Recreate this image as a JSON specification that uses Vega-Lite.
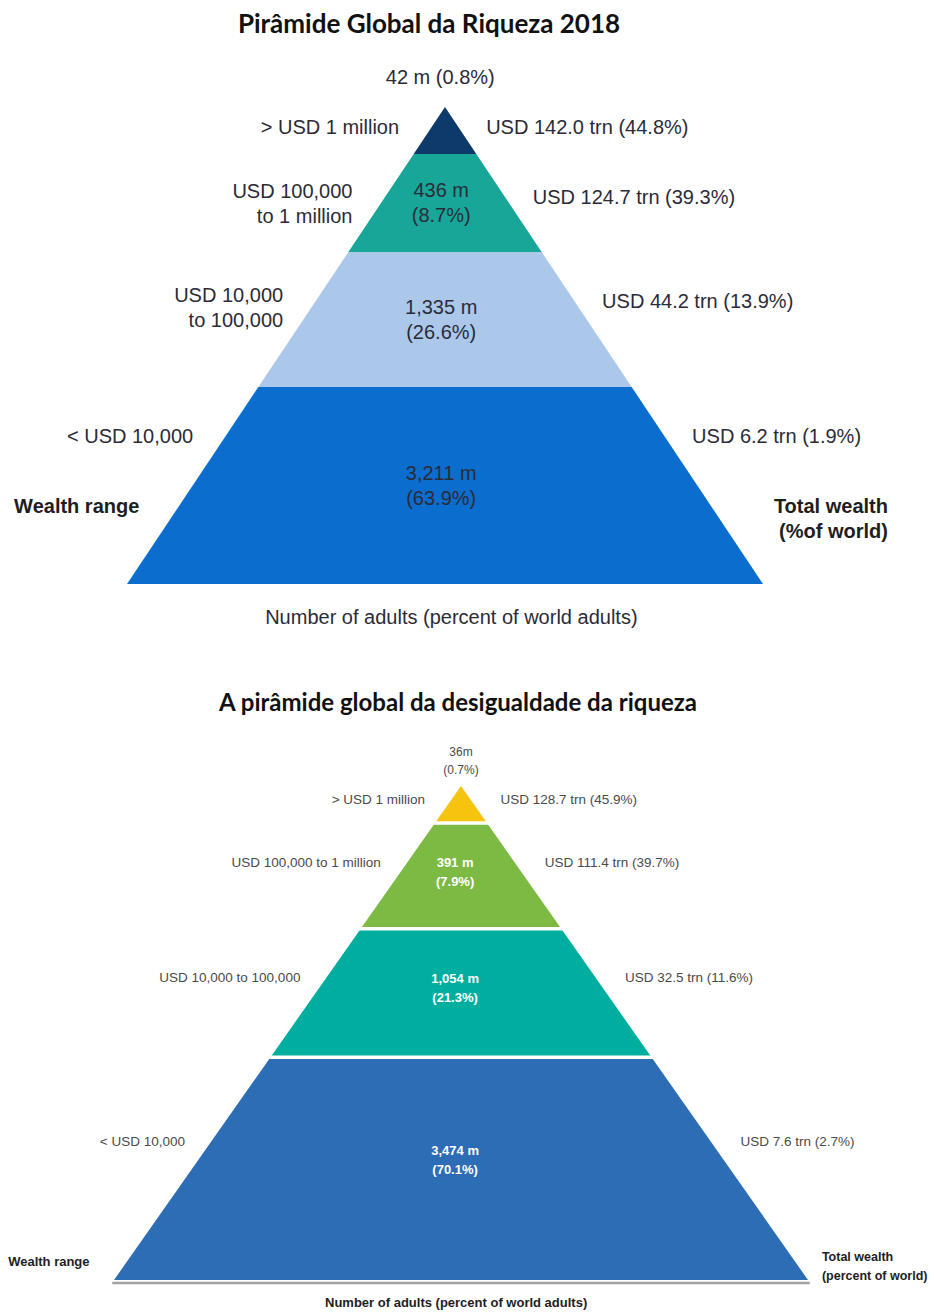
{
  "$schema": "https://vega.github.io/schema/vega-lite/v6.json",
  "background": "white",
  "padding": {"top": 12, "left": 0, "right": 0, "bottom": 0},
  "spacing": 40,
  "config": {
    "view": {"stroke": null},
    "title": {"font": "Lato", "fontWeight": "bold", "color": "#111111", "anchor": "middle", "frame": "group"}
  },
  "datasets": {
    "pyramid2018": [
      {"tier": 1, "range": "> USD 1 million", "adults": 42, "adults_pct": 0.8, "wealth": 142.0, "wealth_pct": 44.8, "top": 0, "bottom": 0.0985},
      {"tier": 2, "range": "USD 100,000 to 1 million", "adults": 436, "adults_pct": 8.7, "wealth": 124.7, "wealth_pct": 39.3, "top": 0.0985, "bottom": 0.304},
      {"tier": 3, "range": "USD 10,000 to 100,000", "adults": 1335, "adults_pct": 26.6, "wealth": 44.2, "wealth_pct": 13.9, "top": 0.304, "bottom": 0.587},
      {"tier": 4, "range": "< USD 10,000", "adults": 3211, "adults_pct": 63.9, "wealth": 6.2, "wealth_pct": 1.9, "top": 0.587, "bottom": 1}
    ],
    "pyramidIneq": [
      {"tier": 1, "range": "> USD 1 million", "adults": 36, "adults_pct": 0.7, "wealth": 128.7, "wealth_pct": 45.9, "top": 0, "bottom": 0.075},
      {"tier": 2, "range": "USD 100,000  to 1 million", "adults": 391, "adults_pct": 7.9, "wealth": 111.4, "wealth_pct": 39.7, "top": 0.075, "bottom": 0.289},
      {"tier": 3, "range": "USD 10,000  to 100,000", "adults": 1054, "adults_pct": 21.3, "wealth": 32.5, "wealth_pct": 11.6, "top": 0.289, "bottom": 0.549},
      {"tier": 4, "range": "< USD 10,000", "adults": 3474, "adults_pct": 70.1, "wealth": 7.6, "wealth_pct": 2.7, "top": 0.549, "bottom": 1}
    ]
  },
  "resolve": {"scale": {"x": "independent", "y": "independent", "color": "independent"}},
  "vconcat": [
    {
      "title": {"text": "Pirâmide Global da Riqueza 2018", "dx": -38, "fontSize": 26, "offset": 2},
      "width": 934,
      "height": 612,
      "data": {"name": "pyramid2018"},
      "layer": [
        {
          "transform": [
            {"fold": ["top", "bottom"], "as": ["edge", "level"]},
            {"calculate": "-datum.level", "as": "left"},
            {"calculate": "datum.level", "as": "right"}
          ],
          "mark": {"type": "area", "orient": "horizontal"},
          "encoding": {
            "y": {"field": "level", "type": "quantitative", "scale": {"domain": [-0.1405, 1.1425], "reverse": true, "nice": false, "zero": false}, "axis": null},
            "x": {"field": "left", "type": "quantitative", "stack": null, "scale": {"domain": [-1.3994, 1.5377], "nice": false, "zero": false}, "axis": null},
            "x2": {"field": "right"},
            "color": {"field": "tier", "type": "nominal", "scale": {"domain": [1, 2, 3, 4], "range": ["#0d3a6a", "#18a698", "#abc8ea", "#0b6dcd"]}, "legend": null}
          }
        },
        {
          "transform": [
            {"filter": "datum.tier == 1"},
            {"calculate": "format(datum.adults, ',') + ' m (' + format(datum.adults_pct, '.1f') + '%)'", "as": "lbl"}
          ],
          "mark": {"type": "text", "font": "Liberation Sans", "fontSize": 20, "color": "#2b2b38", "baseline": "middle", "align": "center"},
          "encoding": {"x": {"datum": -0.015}, "y": {"datum": -0.061}, "text": {"field": "lbl"}}
        },
        {
          "transform": [
            {"filter": "datum.tier > 1"},
            {"calculate": "format(datum.adults, ',') + ' m\\n(' + format(datum.adults_pct, '.1f') + '%)'", "as": "lbl"},
            {"calculate": "(datum.top + datum.bottom) / 2", "as": "mid"}
          ],
          "mark": {"type": "text", "font": "Liberation Sans", "fontSize": 20, "color": "#2b2b38", "baseline": "middle", "align": "center", "lineBreak": "\n", "lineHeight": 25, "dy": -12},
          "encoding": {"x": {"datum": -0.012}, "y": {"field": "mid", "type": "quantitative"}, "text": {"field": "lbl"}}
        },
        {
          "transform": [
            {"calculate": "replace(datum.range, ' to ', '\\nto ')", "as": "rng"},
            {"calculate": "datum.top + min(0.45 * (datum.bottom - datum.top), 0.105)", "as": "edgeY"},
            {"calculate": "datum.edgeY - (indexof(datum.rng, '\\n') >= 0 ? 0.013 : 0)", "as": "sy"},
            {"calculate": "-datum.edgeY - 0.1", "as": "lx"}
          ],
          "mark": {"type": "text", "font": "Liberation Sans", "fontSize": 20, "color": "#2b2b38", "baseline": "middle", "align": "right", "lineBreak": "\n", "lineHeight": 25},
          "encoding": {"x": {"field": "lx", "type": "quantitative"}, "y": {"field": "sy", "type": "quantitative"}, "text": {"field": "rng"}}
        },
        {
          "transform": [
            {"calculate": "datum.top + min(0.45 * (datum.bottom - datum.top), 0.105)", "as": "sy"},
            {"calculate": "datum.sy + 0.085", "as": "rx"},
            {"calculate": "'USD ' + format(datum.wealth, '.1f') + ' trn (' + format(datum.wealth_pct, '.1f') + '%)'", "as": "wl"}
          ],
          "mark": {"type": "text", "font": "Liberation Sans", "fontSize": 20, "color": "#2b2b38", "baseline": "middle", "align": "left"},
          "encoding": {"x": {"field": "rx", "type": "quantitative"}, "y": {"field": "sy", "type": "quantitative"}, "text": {"field": "wl"}}
        },
        {
          "data": {"values": [{"note": "Wealth range"}]},
          "mark": {"type": "text", "font": "Liberation Sans", "fontSize": 20, "fontWeight": "bold", "color": "#1e1e1e", "baseline": "middle", "align": "left"},
          "encoding": {"x": {"datum": -1.355}, "y": {"datum": 0.839}, "text": {"field": "note"}}
        },
        {
          "data": {"values": [{"note": "Total wealth\n(%of world)"}]},
          "mark": {"type": "text", "font": "Liberation Sans", "fontSize": 20, "fontWeight": "bold", "color": "#1e1e1e", "baseline": "middle", "align": "right", "lineBreak": "\n", "lineHeight": 25},
          "encoding": {"x": {"datum": 1.393}, "y": {"datum": 0.839}, "text": {"field": "note"}}
        },
        {
          "data": {"values": [{"note": "Number of adults (percent of world adults)"}]},
          "mark": {"type": "text", "font": "Liberation Sans", "fontSize": 20, "color": "#2b2b38", "baseline": "middle", "align": "center"},
          "encoding": {"x": {"datum": 0.02}, "y": {"datum": 1.071}, "text": {"field": "note"}}
        }
      ]
    },
    {
      "title": {"text": "A pirâmide global da desigualdade da riqueza", "dx": -9, "fontSize": 24, "offset": 6},
      "width": 934,
      "height": 591,
      "data": {"name": "pyramidIneq"},
      "layer": [
        {
          "transform": [
            {"fold": ["top", "bottom"], "as": ["edge", "level"]},
            {"calculate": "-datum.level", "as": "left"},
            {"calculate": "datum.level", "as": "right"}
          ],
          "mark": {"type": "area", "orient": "horizontal"},
          "encoding": {
            "y": {"field": "level", "type": "quantitative", "scale": {"domain": [-0.1296, 1.0668], "reverse": true, "nice": false, "zero": false}, "axis": null},
            "x": {"field": "left", "type": "quantitative", "stack": null, "scale": {"domain": [-1.3285, 1.3631], "nice": false, "zero": false}, "axis": null},
            "x2": {"field": "right"},
            "color": {"field": "tier", "type": "nominal", "scale": {"domain": [1, 2, 3, 4], "range": ["#f6c30f", "#7cba43", "#00ae9f", "#2c6db6"]}, "legend": null}
          }
        },
        {
          "transform": [
            {"filter": "datum.tier > 1"},
            {"calculate": "-datum.top - 0.01", "as": "sl"},
            {"calculate": "datum.top + 0.01", "as": "sr"}
          ],
          "mark": {"type": "rule", "color": "white", "strokeWidth": 3.5},
          "encoding": {"x": {"field": "sl", "type": "quantitative"}, "x2": {"field": "sr"}, "y": {"field": "top", "type": "quantitative"}}
        },
        {
          "data": {"values": [{"base": "shadow"}]},
          "mark": {"type": "rule", "color": "#a3a3a3", "strokeWidth": 2.5},
          "encoding": {"x": {"datum": -1.005}, "x2": {"datum": 1.005}, "y": {"datum": 1.006}}
        },
        {
          "transform": [
            {"filter": "datum.tier == 1"},
            {"calculate": "format(datum.adults, ',') + 'm\\n(' + format(datum.adults_pct, '.1f') + '%)'", "as": "lbl"}
          ],
          "mark": {"type": "text", "font": "Liberation Sans", "fontSize": 12, "color": "#4a4a4a", "baseline": "middle", "align": "center", "lineBreak": "\n", "lineHeight": 18, "dy": -9},
          "encoding": {"x": {"datum": 0}, "y": {"datum": -0.05}, "text": {"field": "lbl"}}
        },
        {
          "transform": [
            {"filter": "datum.tier > 1"},
            {"calculate": "format(datum.adults, ',') + ' m\\n(' + format(datum.adults_pct, '.1f') + '%)'", "as": "lbl"},
            {"calculate": "datum.top + 0.46 * (datum.bottom - datum.top)", "as": "mid"}
          ],
          "mark": {"type": "text", "font": "Liberation Sans", "fontSize": 13, "fontWeight": "bold", "color": "white", "baseline": "middle", "align": "center", "lineBreak": "\n", "lineHeight": 19, "dy": -9},
          "encoding": {"x": {"datum": -0.017}, "y": {"field": "mid", "type": "quantitative"}, "text": {"field": "lbl"}}
        },
        {
          "transform": [
            {"calculate": "datum.top + 0.38 * (datum.bottom - datum.top)", "as": "sy"},
            {"calculate": "-datum.sy - 0.075", "as": "lx"}
          ],
          "mark": {"type": "text", "font": "Liberation Sans", "fontSize": 13.5, "color": "#4a4a4a", "baseline": "middle", "align": "right"},
          "encoding": {"x": {"field": "lx", "type": "quantitative"}, "y": {"field": "sy", "type": "quantitative"}, "text": {"field": "range"}}
        },
        {
          "transform": [
            {"calculate": "datum.top + 0.38 * (datum.bottom - datum.top)", "as": "sy"},
            {"calculate": "datum.sy + 0.085", "as": "rx"},
            {"calculate": "'USD ' + format(datum.wealth, '.1f') + ' trn (' + format(datum.wealth_pct, '.1f') + '%)'", "as": "wl"}
          ],
          "mark": {"type": "text", "font": "Liberation Sans", "fontSize": 13.5, "color": "#4a4a4a", "baseline": "middle", "align": "left"},
          "encoding": {"x": {"field": "rx", "type": "quantitative"}, "y": {"field": "sy", "type": "quantitative"}, "text": {"field": "wl"}}
        },
        {
          "data": {"values": [{"note": "Wealth range"}]},
          "mark": {"type": "text", "font": "Liberation Sans", "fontSize": 13, "fontWeight": "bold", "color": "#1e1e1e", "baseline": "middle", "align": "left"},
          "encoding": {"x": {"datum": -1.305}, "y": {"datum": 0.964}, "text": {"field": "note"}}
        },
        {
          "data": {"values": [{"note": "Total wealth\n(percent of world)"}]},
          "mark": {"type": "text", "font": "Liberation Sans", "fontSize": 12.5, "fontWeight": "bold", "color": "#1e1e1e", "baseline": "middle", "align": "left", "lineBreak": "\n", "lineHeight": 19, "dy": -9},
          "encoding": {"x": {"datum": 1.04}, "y": {"datum": 0.972}, "text": {"field": "note"}}
        },
        {
          "data": {"values": [{"note": "Number of adults (percent of world adults)"}]},
          "mark": {"type": "text", "font": "Liberation Sans", "fontSize": 13, "fontWeight": "bold", "color": "#1e1e1e", "baseline": "middle", "align": "center"},
          "encoding": {"x": {"datum": -0.014}, "y": {"datum": 1.047}, "text": {"field": "note"}}
        }
      ]
    }
  ]
}
